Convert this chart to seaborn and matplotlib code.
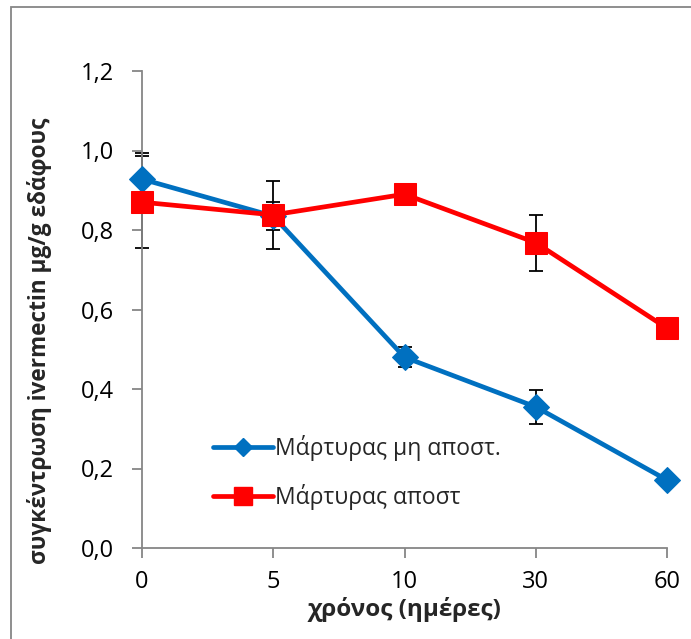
import numpy as np
import pandas as pd
import matplotlib
matplotlib.use("Agg")
import matplotlib.pyplot as plt
from matplotlib.lines import Line2D
from matplotlib.patches import Rectangle
import seaborn as sns

# ---- data ----
days = ["0", "5", "10", "30", "60"]
series_names = ["Μάρτυρας μη αποστ.", "Μάρτυρας αποστ"]
blue_vals = [0.928, 0.835, 0.480, 0.355, 0.171]
blue_err = [0.066, 0.035, 0.025, 0.042, 0.0]
red_vals = [0.870, 0.838, 0.890, 0.768, 0.553]
red_err = [0.115, 0.085, 0.0, 0.070, 0.0]
yticks = [0.0, 0.2, 0.4, 0.6, 0.8, 1.0, 1.2]
ytick_labels = ["0,0", "0,2", "0,4", "0,6", "0,8", "1,0", "1,2"]

sns.set_style("white")
plt.rcParams['font.family'] = ['Open Sans', 'DejaVu Sans']

W, H = 691, 639
fig = plt.figure(figsize=(W / 100, H / 100), dpi=100)
ax = fig.add_axes([142 / W, 1 - 548 / H, (667 - 142) / W, (548 - 71) / H])

pos = np.arange(len(days))
df = pd.DataFrame({
    "pos": np.concatenate([pos, pos]),
    "val": blue_vals + red_vals,
    "series": [series_names[0]] * len(days) + [series_names[1]] * len(days),
})

blue = "#0070C0"
red = "#FF0000"
grey = "#868686"

# error bars (behind)
ax.errorbar(pos, blue_vals, yerr=blue_err, fmt="none", ecolor="black",
            elinewidth=1.3, capsize=5, capthick=1.3, zorder=1, clip_on=False)
ax.errorbar(pos, red_vals, yerr=red_err, fmt="none", ecolor="black",
            elinewidth=1.3, capsize=5, capthick=1.3, zorder=1, clip_on=False)

sns.lineplot(data=df[df.series == series_names[0]], x="pos", y="val", ax=ax,
             color=blue, lw=3.4, marker="D", markersize=13.5,
             markeredgecolor=blue, legend=False, zorder=3, clip_on=False)
sns.lineplot(data=df[df.series == series_names[1]], x="pos", y="val", ax=ax,
             color=red, lw=3.4, marker="s", markersize=16.5,
             markeredgecolor=red, legend=False, zorder=4, clip_on=False)

ax.set_xlim(0, len(days) - 1)
ax.set_ylim(0, 1.2)
ax.set_xticks(pos)
ax.set_xticklabels(days, fontsize=17)
ax.set_yticks(yticks)
ax.set_yticklabels(ytick_labels, fontsize=17)

for s in ["top", "right"]:
    ax.spines[s].set_visible(False)
for s in ["left", "bottom"]:
    ax.spines[s].set_color(grey)
    ax.spines[s].set_linewidth(1.3)
ax.tick_params(axis="both", direction="out", length=7, width=1.3, color=grey,
               labelcolor="black", left=True, bottom=True)
ax.tick_params(axis="x", pad=9)
ax.tick_params(axis="y", pad=13)

ax.set_xlabel("χρόνος (ημέρες)", fontsize=17.5, fontweight="bold", labelpad=2)
ax.set_ylabel("συγκέντρωση ivermectin μg/g εδάφους", fontsize=16.3,
              fontweight="bold")
ax.yaxis.set_label_coords((52 - 142) / 525, 0.434)

handles = [
    Line2D([], [], color=blue, lw=3.4, marker="D", markersize=9),
    Line2D([], [], color=red, lw=3.4, marker="s", markersize=12.5),
]
ax.legend(handles, series_names, loc="upper left",
          bbox_to_anchor=((204 - 142) / (667 - 142), (548 - 426) / (548 - 71)),
          frameon=False, fontsize=16.5, handlelength=2.6, handletextpad=0.1,
          labelspacing=1.0, borderaxespad=0)

# outer chart frame
fig.add_artist(Rectangle((11 / W, -0.1), 1.2, 1 - 7 / H + 0.1,
                         transform=fig.transFigure, fill=False,
                         edgecolor=grey, lw=1.3))

fig.savefig("out.png", dpi=100)
